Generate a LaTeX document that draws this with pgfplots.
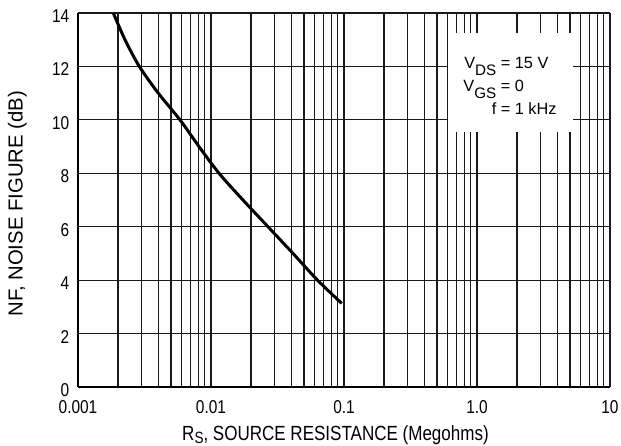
\documentclass[border=0pt]{standalone}
\usepackage{fontspec}
\setmainfont{Liberation Sans}
\newfontfamily\cnfont{Liberation Sans}[FakeStretch=0.83]
\usepackage{pgfplots}
\pgfplotsset{compat=1.18}

% subscript the way the data sheet sets it: large and well below the baseline
\newcommand\lowsub[2]{\raisebox{-#2}[0pt][0pt]{#1}}

\begin{document}
\begin{tikzpicture}
\useasboundingbox (-78pt,-58pt) rectangle (543pt,387pt);
\begin{axis}[
    xmode=log,
    scale only axis,
    width=532pt,
    height=374pt,
    xmin=0.001, xmax=10,
    ymin=0, ymax=14,
    enlargelimits=false,
    axis x line=bottom,
    axis y line=left,
    axis line style={line width=2.4pt, -},
    xtick={0.001,0.01,0.1,1,10},
    xticklabels={0.001,0.01,0.1,1.0,10},
    minor xtick={0.002,0.003,0.004,0.005,0.006,0.007,0.008,0.009,
                 0.02,0.03,0.04,0.05,0.06,0.07,0.08,0.09,
                 0.2,0.3,0.4,0.5,0.6,0.7,0.8,0.9,
                 2,3,4,5,6,7,8,9},
    ytick={0,2,4,6,8,10,12,14},
    xmajorgrids, xminorgrids, ymajorgrids,
    grid style={black!90, line width=1.1pt},
    minor grid style={black!90, line width=1.1pt},
    major tick length=0pt,
    minor tick length=0pt,
    tick label style={font=\cnfont\fontsize{18.6}{22}\selectfont, inner sep=0pt},
    yticklabel style={xshift=-8.5pt, yshift=-3pt, /pgf/number format/assume math mode=true},
    xticklabel style={yshift=-13pt},
    xlabel={R\lowsub{\fontsize{16.3}{18}\selectfont S}{3pt}, SOURCE RESISTANCE (Megohms)},
    ylabel={NF, NOISE FIGURE (dB)},
    xlabel style={font=\cnfont\fontsize{20.5}{24}\selectfont,
        at={(axis description cs:0.484,0)}, anchor=base, yshift=-53pt},
    ylabel style={font=\fontsize{20.3}{24}\selectfont,
        at={(axis description cs:0,0.49)}, anchor=center, yshift=60.5pt},
]
\addplot[black, line width=3pt, smooth, tension=0.5] coordinates {
    (0.001843,14.0)
    (0.002256,13.0)
    (0.002891,12.0)
    (0.004016,11.0)
    (0.005848,10.0)
    (0.008124,9.0)
    (0.01149,8.0)
    (0.01740,7.0)
    (0.02683,6.0)
    (0.04135,5.0)
    (0.06322,4.0)
    (0.0961,3.13)
};
\node[fill=white, inner sep=0pt, minimum width=125pt, minimum height=99pt, anchor=north west]
    at (axis cs:0.605,13.25) {};
\node[anchor=base west, inner sep=0pt, font=\fontsize{16.3}{23}\selectfont]
    at (axis cs:0.789,11.93) {%
    \begin{tabular}[t]{@{}r@{}l@{}}
    V\lowsub{\fontsize{15.2}{16}\selectfont DS}{7.5pt} & \ = 15 V\\
    V\lowsub{\fontsize{15.2}{16}\selectfont GS}{7.5pt} & \ = 0\\
    f & \ = 1 kHz
    \end{tabular}};
\end{axis}
\end{tikzpicture}
\end{document}
